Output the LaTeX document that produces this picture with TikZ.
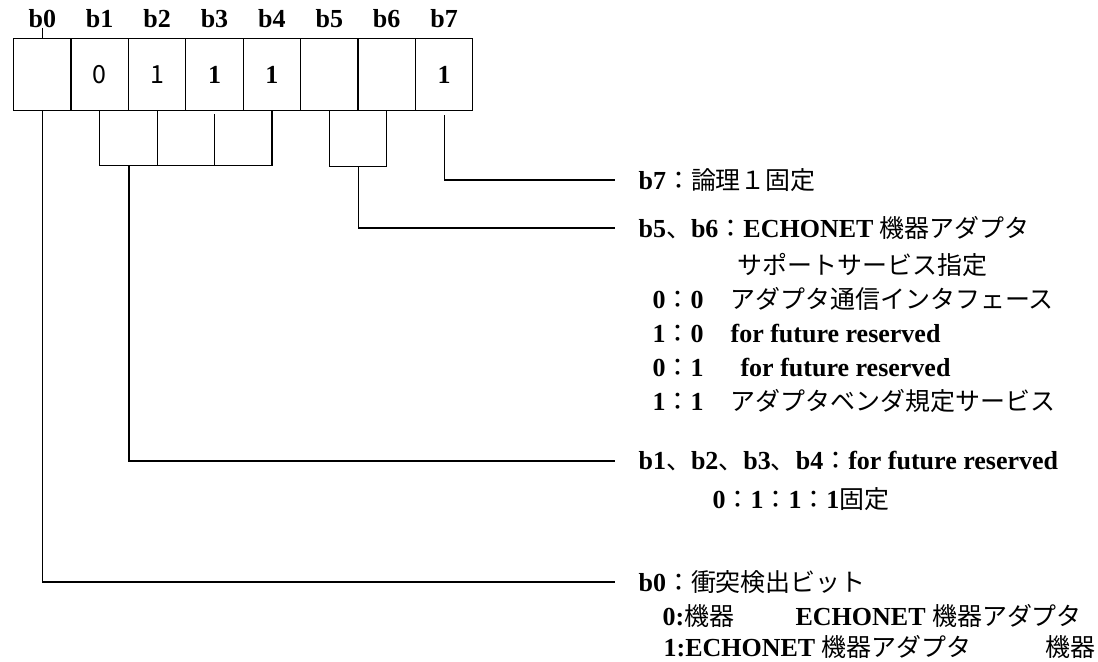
\documentclass[tikz,border=0pt]{standalone}
\usepackage{fontspec}
\setmainfont{Liberation Serif}
\newfontfamily\jpfont[Scale=0.96]{Noto Sans CJK JP}
\newcommand\jtext[1]{{\jpfont\mdseries #1}}
\usetikzlibrary{matrix}

\tikzset{
  bitcell/.style={draw, minimum width=28.7pt, minimum height=36pt},
  desc/.style={anchor=west, inner xsep=0pt, inner ysep=0pt},
  lead/.style={desc, inner xsep=11.5pt}
}

\begin{document}
\begin{tikzpicture}[x=0.5pt, y=-0.5pt, line width=0.6pt,
  font=\fontsize{13}{17}\selectfont\bfseries]
\useasboundingbox (0,0) rectangle (1098,661);
\matrix (reg) [matrix of nodes, matrix anchor=c0.north west,
nodes={anchor=center, inner sep=0pt},
row 2/.style={nodes={bitcell}},
row sep={28pt,between origins},
column sep={28.7pt,between origins}] at (13,38)
{
|(t0)|{b0} & |(t1)|{b1} & |(t2)|{b2} & |(t3)|{b3} & |(t4)|{b4} & |(t5)|{b5} & |(t6)|{b6} & |(t7)|{b7} \\
|(c0)|{} & |(c1)|{\jtext{0}} & |(c2)|{\jtext{1}} & |(c3)|{1} & |(c4)|{1} & |(c5)|{} & |(c6)|{} & |(c7)|{1} \\
};
\node[lead] (d7) at (615,180) {b7\jtext{：論理１固定}};
\node[lead] (d56) at (615,228) {b5\jtext{、}b6\jtext{：}ECHONET \jtext{機器アダプタ}};
\node[desc] (d56a) at (737,265) {\jtext{サポートサービス指定}};
\node[desc] (d56b) at (652,299) {\makebox[39pt][l]{0\jtext{：}0}\jtext{アダプタ通信インタフェース}};
\node[desc] (d56c) at (652,333) {\makebox[39pt][l]{1\jtext{：}0}for future reserved};
\node[desc] (d56d) at (652,367) {\makebox[44pt][l]{0\jtext{：}1}for future reserved};
\node[desc] (d56e) at (652,401) {\makebox[39pt][l]{1\jtext{：}1}\jtext{アダプタベンダ規定サービス}};
\node[lead] (d14) at (615,461) {b1\jtext{、}b2\jtext{、}b3\jtext{、}b4\jtext{：}for future reserved};
\node[desc] (d14a) at (712,499) {0\jtext{：}1\jtext{：}1\jtext{：}1\jtext{固定}};
\node[lead] (d0) at (615,582) {b0\jtext{：衝突検出ビット}};
\node[desc] (d0a) at (662,616) {\makebox[66.5pt][l]{0:\jtext{機器}}ECHONET \jtext{機器アダプタ}};
\node[desc] (d0b) at (663,647) {\makebox[191pt][l]{1:ECHONET \jtext{機器アダプタ}}\jtext{機器}};
\draw (t0.base) -- (c0.north);
\draw (c0.south) |- (d0.west);
\draw ([yshift=-2pt]c7.south) |- (d7.west);
\draw (c5.south) -- ++(0,55) coordinate (k56) -| (c6.south);
\draw (k56 -| c5.south east) |- (d56.west);
\draw (c1.south) -- ++(0,54) coordinate (k14) -| (c4.south);
\draw (c2.south) -- (c2.south |- k14);
\draw ([yshift=-1.5pt]c3.south) -- (c3.south |- k14);
\draw (k14 -| c1.south east) |- (d14.west);
\end{tikzpicture}
\end{document}
